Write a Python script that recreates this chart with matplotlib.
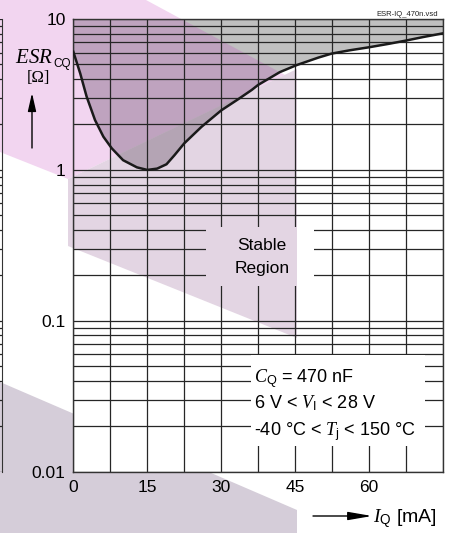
import numpy as np
import matplotlib.pyplot as plt
from matplotlib.patches import Polygon, Rectangle
from matplotlib.ticker import FixedLocator, FixedFormatter, MultipleLocator, LogLocator, NullFormatter

plt.rcParams['font.family'] = ['Liberation Sans', 'DejaVu Sans']
plt.rcParams['mathtext.fontset'] = 'custom'
plt.rcParams['mathtext.it'] = 'Liberation Serif:italic'
plt.rcParams['mathtext.rm'] = 'Liberation Sans'
plt.rcParams['mathtext.sf'] = 'Liberation Sans'

# stability boundary
iq_ma = [0, 1.4, 2.7, 4.4, 6.1, 7.8, 10.1, 12.9, 15, 17, 18.9, 20.5, 22.5, 26,
         30, 33.5, 36.2, 37.5, 41.9, 45.3, 49.7, 52.4, 56, 60, 64, 67.5, 71, 75]
esr_ohm = [6.07, 4.36, 3.06, 2.14, 1.66, 1.39, 1.16, 1.04, 1.0, 1.02, 1.09, 1.25, 1.5, 1.93,
           2.48, 2.95, 3.39, 3.66, 4.45, 4.95, 5.55, 5.9, 6.2, 6.5, 6.85, 7.2, 7.6, 8.04]

x_ticks = [0, 15, 30, 45, 60, 75]
x_labels = ['0', '15', '30', '45', '60', '']
y_ticks = [0.01, 0.1, 1, 10]
y_labels = ['0.01', '0.1', '1', '10']
param_lines = [r'$C_\mathrm{Q}$ = 470 nF',
               r'6 V < $V_\mathrm{I}$ < 28 V',
               r'-40 °C < $T_\mathrm{j}$ < 150 °C']

W, H = 449, 533
fig = plt.figure(figsize=(W / 100, H / 100), dpi=100)

# full-figure pixel canvas for the watermark and outside labels
bg = fig.add_axes([0, 0, 1, 1], zorder=0)
bg.set_xlim(0, W)
bg.set_ylim(H, 0)
bg.axis('off')

band_a = [(0, 0), (146, 0), (285, 75), (68, 179), (0, 152)]
band_b = [(68, 179), (297, 69), (297, 338), (68, 246)]
band_c = [(0, 382), (297, 510), (297, 533), (0, 533)]
pink, pink_gray = '#f2d5f0', '#bfa3bf'
mauve, mauve_gray = '#e3d5e3', '#b4a4b4'

for pts, col in [(band_a, pink), (band_b, mauve), (band_c, '#d5cdd9')]:
    bg.add_patch(Polygon(pts, closed=True, fc=col, ec='none'))

# neighbouring chart edge at the far left
nb = fig.add_axes([-0.01, 0.1150, 0.0148, 0.8493], zorder=1)
nb.set_facecolor('none')
nb.set_yscale('log')
nb.set_ylim(0.01, 10)
nb.yaxis.set_minor_locator(LogLocator(base=10, subs=np.arange(2, 10)))
nb.grid(True, which='both', axis='y', color='#262626', lw=0.9)
nb.tick_params(which='both', length=0, labelleft=False, labelbottom=False)
for s in ['left', 'top', 'bottom']:
    nb.spines[s].set_visible(False)
nb.spines['right'].set_color('#333333')

# main chart
ax = fig.add_axes([0.1633, 0.1150, 0.8234, 0.8493], zorder=2)
ax.set_facecolor('white')
ax.set_yscale('log')
ax.set_xlim(0, 75)
ax.set_ylim(0.01, 10)

for pts, col in [(band_a, pink), (band_b, mauve)]:
    ax.add_patch(Polygon(pts, closed=True, fc=col, ec='none', zorder=0.9,
                         transform=bg.transData))

verts = np.column_stack([iq_ma + [iq_ma[-1], iq_ma[0]], esr_ohm + [10, 10]])
gray = Polygon(verts, closed=True, fc='#c0c0c0', ec='none', zorder=1.0)
ax.add_patch(gray)
for pts, col in [(band_a, pink_gray), (band_b, mauve_gray)]:
    p = Polygon(pts, closed=True, fc=col, ec='none', zorder=1.1, transform=bg.transData)
    ax.add_patch(p)
    p.set_clip_path(gray)

ax.plot(iq_ma, esr_ohm, color='#1a1a1a', lw=1.8, zorder=2.6)

ax.xaxis.set_major_locator(FixedLocator(x_ticks))
ax.xaxis.set_major_formatter(FixedFormatter(x_labels))
ax.xaxis.set_minor_locator(MultipleLocator(7.5))
ax.yaxis.set_major_locator(FixedLocator(y_ticks))
ax.yaxis.set_major_formatter(FixedFormatter(y_labels))
ax.yaxis.set_minor_locator(LogLocator(base=10, subs=np.arange(2, 10)))
ax.yaxis.set_minor_formatter(NullFormatter())
ax.grid(True, which='both', color='#262626', lw=0.9)
ax.tick_params(which='both', length=0, labelsize=12.5, colors='black')
ax.tick_params(axis='y', pad=5.5)
ax.tick_params(axis='x', pad=6.0)
for s in ax.spines.values():
    s.set_color('#333333')
    s.set_linewidth(1.0)

# label boxes hide the grid
stable_box = Rectangle((26.9, 0.170), 48.8 - 26.9, 0.419 - 0.170, fc='white', ec='none', zorder=3)
param_box = Rectangle((36.0, 0.0148), 71.3 - 36.0, 0.0597 - 0.0148, fc='white', ec='none', zorder=3)
ax.add_patch(stable_box)
ax.add_patch(param_box)
p = Polygon(band_b, closed=True, fc=mauve, ec='none', zorder=3.1, transform=bg.transData)
ax.add_patch(p)
p.set_clip_path(stable_box)

ax.text(262, 245, 'Stable', transform=bg.transData, ha='center', va='center', fontsize=12.5, zorder=4)
ax.text(262, 268, 'Region', transform=bg.transData, ha='center', va='center', fontsize=12.5, zorder=4)
for txt, yb in zip(param_lines, [382, 408, 435]):
    ax.text(254, yb, txt, transform=bg.transData, ha='left', va='baseline', fontsize=13, zorder=4)

# axis labels
bg.text(53, 63, r'$ESR$', ha='right', va='baseline', fontsize=15)
bg.text(53.5, 67.5, 'CQ', ha='left', va='baseline', fontsize=8.5)
bg.text(38.5, 78, '[Ω]', ha='center', va='center', fontsize=12, family='Liberation Serif')
bg.annotate('', xy=(32, 93), xytext=(32, 148),
            arrowprops=dict(arrowstyle='-|>,head_length=1.1,head_width=0.25', color='black', lw=1.0,
                            shrinkA=0, shrinkB=0))
bg.annotate('', xy=(372, 516), xytext=(313, 516),
            arrowprops=dict(arrowstyle='-|>,head_length=1.45,head_width=0.25', color='black', lw=1.0,
                            shrinkA=0, shrinkB=0))
bg.text(373, 522, r'$I_\mathrm{Q}$ [mA]', ha='left', va='baseline', fontsize=14)
bg.text(438, 16, 'ESR-IQ_470n.vsd', ha='right', va='baseline', fontsize=5.5, color='#222222')

fig.savefig('out.png', dpi=100)
